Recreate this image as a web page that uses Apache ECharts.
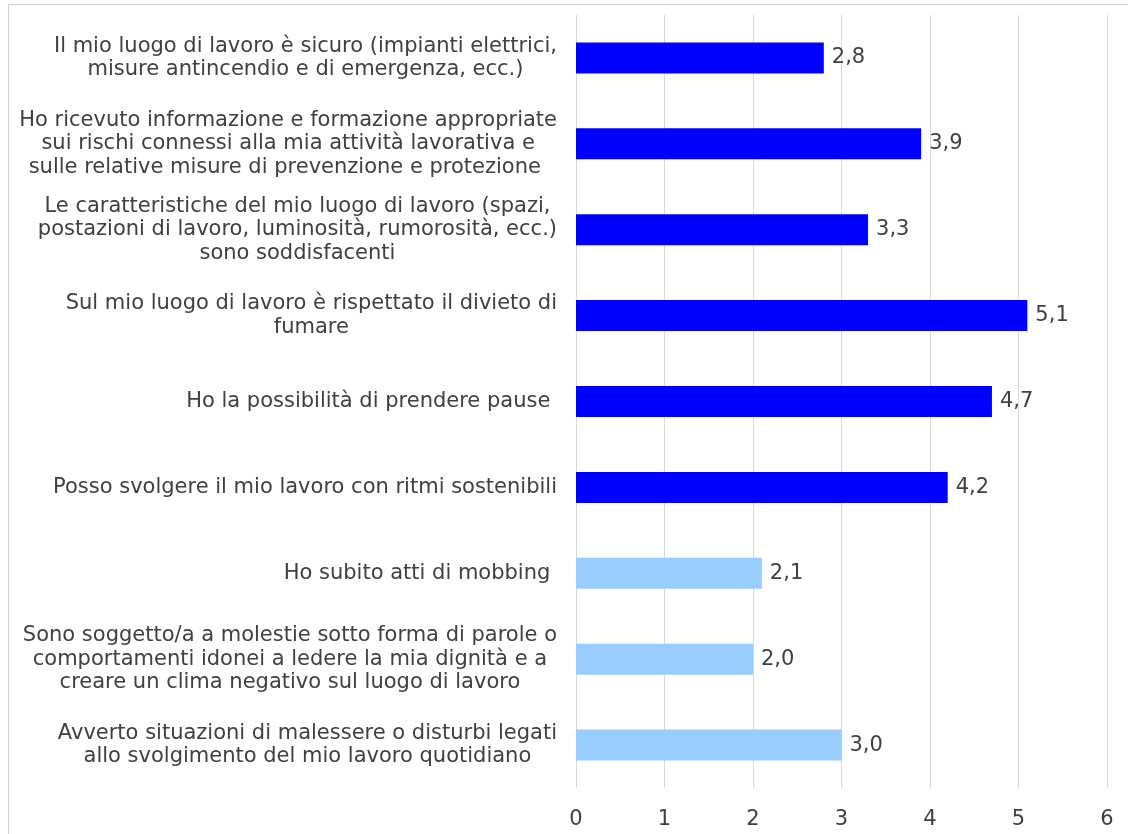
<!DOCTYPE html>
<html>
<head>
<meta charset="utf-8">
<script src="https://cdn.jsdelivr.net/npm/echarts@6/dist/echarts.min.js"></script>
<style>html,body{margin:0;padding:0;background:#fff;}#c{width:1128px;height:834px;}</style>
</head>
<body>
<div id="c"></div>
<script>
const categories = [
  "Il mio luogo di lavoro è sicuro (impianti elettrici,\nmisure antincendio e di emergenza, ecc.)",
  "Ho ricevuto informazione e formazione appropriate\nsui rischi connessi alla mia attività lavorativa e\nsulle relative misure di prevenzione e protezione ",
  "Le caratteristiche del mio luogo di lavoro (spazi,\npostazioni di lavoro, luminosità, rumorosità, ecc.)\nsono soddisfacenti",
  "Sul mio luogo di lavoro è rispettato il divieto di\nfumare",
  "Ho la possibilità di prendere pause ",
  "Posso svolgere il mio lavoro con ritmi sostenibili",
  "Ho subito atti di mobbing ",
  "Sono soggetto/a a molestie sotto forma di parole o\ncomportamenti idonei a ledere la mia dignità e a\ncreare un clima negativo sul luogo di lavoro",
  "Avverto situazioni di malessere o disturbi legati\nallo svolgimento del mio lavoro quotidiano"
];
const values = [2.8, 3.9, 3.3, 5.1, 4.7, 4.2, 2.1, 2.0, 3.0];
const groups = ["A", "A", "A", "A", "A", "A", "B", "B", "B"];
const groupColors = { A: "#0000FF", B: "#99CCFF" };
const xTicks = [0, 1, 2, 3, 4, 5, 6];

const chart = echarts.init(document.getElementById('c'), null, { renderer: 'canvas' });
const FONT = "DejaVu Sans";
const FS = 21;
chart.setOption({
  animation: false,
  backgroundColor: '#ffffff',
  graphic: [{
    type: 'rect', silent: true,
    shape: { x: 8.5, y: 4.5, width: 1200, height: 900 },
    style: { fill: 'none', stroke: '#d0d0d0', lineWidth: 1 }
  }],
  grid: { left: 576, right: 21, top: 15, bottom: 46, containLabel: false },
  xAxis: {
    type: 'value',
    min: xTicks[0], max: xTicks[xTicks.length - 1], interval: 1,
    axisLine: { show: false },
    axisTick: { show: false },
    splitLine: { show: true, lineStyle: { color: '#d9d9d9', width: 1 } },
    axisLabel: { color: '#404040', fontSize: FS, fontFamily: FONT, margin: 21 }
  },
  yAxis: {
    type: 'category',
    inverse: true,
    data: categories,
    axisLine: { show: false },
    axisTick: { show: false },
    axisLabel: {
      margin: 19,
      color: '#404040',
      fontSize: FS,
      fontFamily: FONT,
      lineHeight: 23.5,
      align: 'right',
      formatter: function (v) {
        return v.split('\n').map(function (l) { return '{c|' + l + '}'; }).join('\n');
      },
      rich: { c: { align: 'center', color: '#404040', fontSize: FS, fontFamily: FONT, lineHeight: 23.5 } }
    }
  },
  series: [{
    type: 'bar',
    barWidth: 31,
    data: values.map(function (v, i) {
      return { value: v, itemStyle: { color: groupColors[groups[i]] } };
    }),
    label: {
      show: true,
      position: 'right',
      distance: 8,
      color: '#404040',
      fontSize: FS,
      fontFamily: FONT,
      formatter: function (p) { return p.value.toFixed(1).replace('.', ','); }
    }
  }]
});
</script>
</body>
</html>
